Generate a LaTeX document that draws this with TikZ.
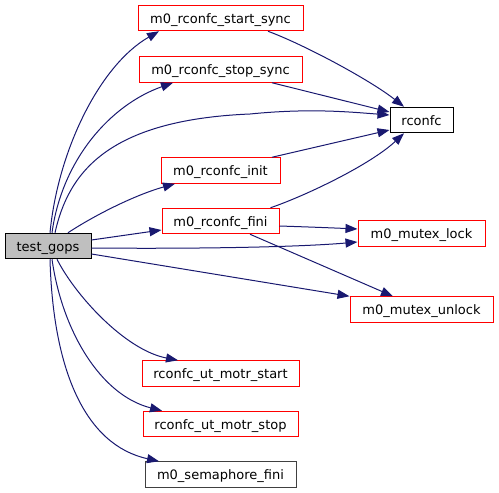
\documentclass[tikz,border=0pt]{standalone}
\usepackage{fontspec}
\setmainfont{DejaVu Sans}
\usetikzlibrary{arrows.meta,calc}
\definecolor{edgeblue}{RGB}{25,25,112}
\definecolor{nodered}{RGB}{255,0,0}
\definecolor{nodegray}{RGB}{191,191,191}
\begin{document}
\begin{tikzpicture}[x=1pt,y=-1pt,
  fn/.style={draw=nodered,line width=1pt,rectangle,inner sep=0pt,minimum height=25.5pt,
    text height=12pt,text depth=2pt,font=\fontsize{13}{15}\selectfont,fill=white},
  fnblack/.style={fn,draw=black},
  fngray/.style={fn,draw=black!75},
  fnroot/.style={fn,draw=black,fill=nodegray},
  call/.style={draw=edgeblue,line width=1pt,-{Triangle[length=12pt,width=9pt]},fill=none}]
\useasboundingbox (0,0) rectangle (499,493);
% nodes
\node[fnroot,minimum width=86pt] (test) at (48,246) {test\_gops};
\node[fn,minimum width=165pt] (start) at (220.5,18) {m0\_rconfc\_start\_sync};
\node[fn,minimum width=163pt] (stop) at (220.5,69.5) {m0\_rconfc\_stop\_sync};
\node[fnblack,minimum width=63pt] (rconfc) at (421.5,120) {rconfc};
\node[fn,minimum width=119pt] (init) at (220.5,170.5) {m0\_rconfc\_init};
\node[fn,minimum width=117pt] (fini) at (220.5,221) {m0\_rconfc\_fini};
\node[fn,minimum width=127pt] (lock) at (421.5,233.5) {m0\_mutex\_lock};
\node[fn,minimum width=143pt] (unlock) at (421.5,309.5) {m0\_mutex\_unlock};
\node[fn,minimum width=157pt] (utstart) at (220.5,373.5) {rconfc\_ut\_motr\_start};
\node[fn,minimum width=155pt] (utstop) at (220.5,424) {rconfc\_ut\_motr\_stop};
\node[fngray,minimum width=151pt] (sema) at (220.5,474.5) {m0\_semaphore\_fini};
% edges from test_gops
\draw[call] ($(test.north)+(2,0)$) .. controls (58,150) and (100,65) .. ($(start.south)+(-61.5,0)$);
\draw[call] ($(test.north)+(4,0)$) .. controls (62,160) and (110,105) .. ($(stop.south)+(-47.5,0)$);
\draw[call] ($(test.north)+(7,0)$) .. controls (68,175) and (105,120) .. (250,114) .. controls (310,108) and (350,112) .. ($(rconfc.west)+(0,-5)$);
\draw[call] ($(test.north)+(20,0)$) .. controls (95,215) and (135,195) .. ($(init.south)+(-45.5,0)$);
\draw[call] ($(test.east)+(0,-6)$) -- ($(fini.west)+(0,9)$);
\draw[call] ($(test.east)+(0,2)$) .. controls (200,249) and (300,247) .. ($(lock.west)+(0,8.5)$);
\draw[call] ($(test.east)+(0,8)$) -- (unlock.north west);
\draw[call] ($(test.south)+(9,0)$) .. controls (75,295) and (125,350) .. ($(utstart.north)+(-42.5,0)$);
\draw[call] ($(test.south)+(4,0)$) .. controls (62,330) and (100,395) .. ($(utstop.north)+(-58.5,0)$);
\draw[call] ($(test.south)+(2,0)$) .. controls (53,370) and (85,445) .. ($(sema.north)+(-61.5,0)$);
% edges to rconfc
\draw[call] ($(start.south)+(47.5,0)$) .. controls (305,45) and (370,80) .. ($(rconfc.north)+(-17.5,0)$);
\draw[call] ($(stop.south)+(51.5,0)$) -- ($(rconfc.west)+(0,-8)$);
\draw[call] ($(init.north)+(51.5,0)$) -- ($(rconfc.west)+(0,10)$);
\draw[call] ($(fini.north)+(50,0)$) .. controls (305,196) and (370,165) .. ($(rconfc.south)+(-17.5,0)$);
% edges from fini
\draw[call] ($(fini.east)+(0,5)$) .. controls (310,227) and (335,228) .. ($(lock.west)+(0,-4.5)$);
\draw[call] ($(fini.south)+(29.5,0)$) -- ($(unlock.north)+(-28.5,0)$);
\end{tikzpicture}
\end{document}
